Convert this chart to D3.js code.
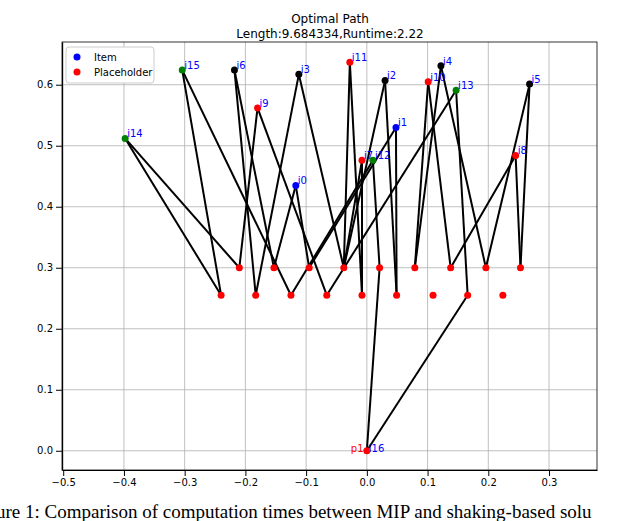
<!DOCTYPE html>
<html>
<head>
<meta charset="utf-8" />
<script src="https://cdn.jsdelivr.net/npm/d3@7"></script>
<style>
  body { margin:0; background:#fff; }
  text { font-family: "DejaVu Sans", sans-serif; }
</style>
</head>
<body>
<script>
var width = 640, height = 521;
var svg = d3.select('body').append('svg').attr('width', width).attr('height', height);

// items: name, x, y, dot colour
var itemNames = ['i0','i1','i2','i3','i4','i5','i6','i7','i8','i9','i10','i11','i12','i13','i14','i15'];
var itemX = [-0.117,0.048,0.030,-0.112,0.122,0.268,-0.218,-0.008,0.245,-0.180,0.101,-0.028,0.010,0.147,-0.398,-0.304];
var itemY = [0.435,0.530,0.607,0.617,0.631,0.601,0.624,0.476,0.484,0.562,0.605,0.637,0.476,0.591,0.512,0.624];
var itemColor = ['blue','blue','black','black','black','black','black','red','red','red','red','red','green','green','green','green'];

// placeholder rows
var rowAX = [-0.210,-0.153,-0.095,-0.038,0.021,0.079,0.138,0.196,0.253];
var rowAY = 0.300;
var rowBX = [-0.240,-0.183,-0.125,-0.066,-0.008,0.049,0.109,0.166,0.224];
var rowBY = 0.255;

// path edges
var edges = [['i14','A0'],['i14','B0'],['i15','B0'],['i15','B2'],['i6','B1'],['i6','A1'],
  ['i9','A0'],['i9','B3'],['i0','A1'],['i0','A2'],['i1','A2'],['i3','B1'],['i3','A3'],
  ['i11','A3'],['i11','B4'],['i7','B4'],['i7','A3'],['i12','A4'],['i12','B2'],['i2','A3'],
  ['i2','B5'],['i1','B5'],['i10','A5'],['i10','A6'],['i4','A5'],['i4','A7'],['i13','B7'],
  ['i13','B3'],['i8','A6'],['i8','A8'],['i5','A8'],['i5','A7'],['p1','A4'],['p1','B7']];

var margin = {left: 62, right: 43, top: 42, bottom: 51};
var x = d3.scaleLinear().domain([-0.502, 0.379]).range([margin.left, width - margin.right]);
var y = d3.scaleLinear().domain([-0.0315, 0.670]).range([height - margin.bottom, margin.top]);

var pos = {};
itemNames.forEach(function(n, i){ pos[n] = [itemX[i], itemY[i]]; });
rowAX.forEach(function(v, i){ pos['A'+i] = [v, rowAY]; });
rowBX.forEach(function(v, i){ pos['B'+i] = [v, rowBY]; });
pos['p1'] = [0, 0];

var g = svg.append('g');
// grid
var xt = [-0.5,-0.4,-0.3,-0.2,-0.1,0.0,0.1,0.2,0.3];
var yt = [0.0,0.1,0.2,0.3,0.4,0.5,0.6];
g.selectAll('.gx').data(xt).enter().append('line').attr('x1', x).attr('x2', x)
  .attr('y1', margin.top).attr('y2', height - margin.bottom).attr('stroke', '#b0b0b0').attr('stroke-width', 0.8);
g.selectAll('.gy').data(yt).enter().append('line').attr('y1', y).attr('y2', y)
  .attr('x1', margin.left).attr('x2', width - margin.right).attr('stroke', '#b0b0b0').attr('stroke-width', 0.8);

// axes
g.append('g').attr('transform', 'translate(0,' + (height - margin.bottom) + ')')
  .call(d3.axisBottom(x).tickValues(xt).tickFormat(d3.format('.1f')).tickSizeOuter(0))
  .selectAll('text').style('font-size', '10px');
g.append('g').attr('transform', 'translate(' + margin.left + ',0)')
  .call(d3.axisLeft(y).tickValues(yt).tickFormat(d3.format('.1f')).tickSizeOuter(0))
  .selectAll('text').style('font-size', '10px');
g.append('rect').attr('x', margin.left).attr('y', margin.top)
  .attr('width', width - margin.left - margin.right).attr('height', height - margin.top - margin.bottom)
  .attr('fill', 'none').attr('stroke', 'black').attr('stroke-width', 0.8);

// edges
g.selectAll('.edge').data(edges).enter().append('line')
  .attr('x1', function(d){ return x(pos[d[0]][0]); }).attr('y1', function(d){ return y(pos[d[0]][1]); })
  .attr('x2', function(d){ return x(pos[d[1]][0]); }).attr('y2', function(d){ return y(pos[d[1]][1]); })
  .attr('stroke', 'black').attr('stroke-width', 2);

// placeholders
var ph = rowAX.map(function(v){ return [v, rowAY]; }).concat(rowBX.map(function(v){ return [v, rowBY]; })).concat([[0,0]]);
g.selectAll('.ph').data(ph).enter().append('circle')
  .attr('cx', function(d){ return x(d[0]); }).attr('cy', function(d){ return y(d[1]); })
  .attr('r', 3.5).attr('fill', 'red');

// items
g.selectAll('.it').data(itemNames).enter().append('circle')
  .attr('cx', function(d, i){ return x(itemX[i]); }).attr('cy', function(d, i){ return y(itemY[i]); })
  .attr('r', 3.5).attr('fill', function(d, i){ return itemColor[i]; });
g.selectAll('.il').data(itemNames).enter().append('text')
  .attr('x', function(d, i){ return x(itemX[i]) + 2; }).attr('y', function(d, i){ return y(itemY[i]) - 1; })
  .attr('fill', 'blue').style('font-size', '10px').text(function(d){ return d; });
g.append('text').attr('x', x(0) - 16).attr('y', y(0) + 1).attr('fill', 'red').style('font-size', '10px').text('p1');
g.append('text').attr('x', x(0) + 2).attr('y', y(0) + 1).attr('fill', 'blue').style('font-size', '10px').text('i16');

// legend
var lg = g.append('g').attr('transform', 'translate(66,47)');
lg.append('rect').attr('width', 88).attr('height', 36).attr('rx', 3).attr('fill', 'white').attr('stroke', '#ccc');
[['Item','blue'],['Placeholder','red']].forEach(function(d, i){
  lg.append('circle').attr('cx', 11).attr('cy', 10 + i * 15).attr('r', 3.5).attr('fill', d[1]);
  lg.append('text').attr('x', 28).attr('y', 14 + i * 15).style('font-size', '10px').text(d[0]);
});

// title
svg.append('text').attr('x', 330).attr('y', 23).attr('text-anchor', 'middle').style('font-size', '12px').text('Optimal Path');
svg.append('text').attr('x', 330).attr('y', 38).attr('text-anchor', 'middle').style('font-size', '12px').text('Length:9.684334,Runtime:2.22');

// caption
svg.append('text').attr('x', -4).attr('y', 518).style('font-family', '"Liberation Serif", serif').style('font-size', '19px')
  .text('ure 1: Comparison of computation times between MIP and shaking-based solu');
</script>
</body>
</html>
